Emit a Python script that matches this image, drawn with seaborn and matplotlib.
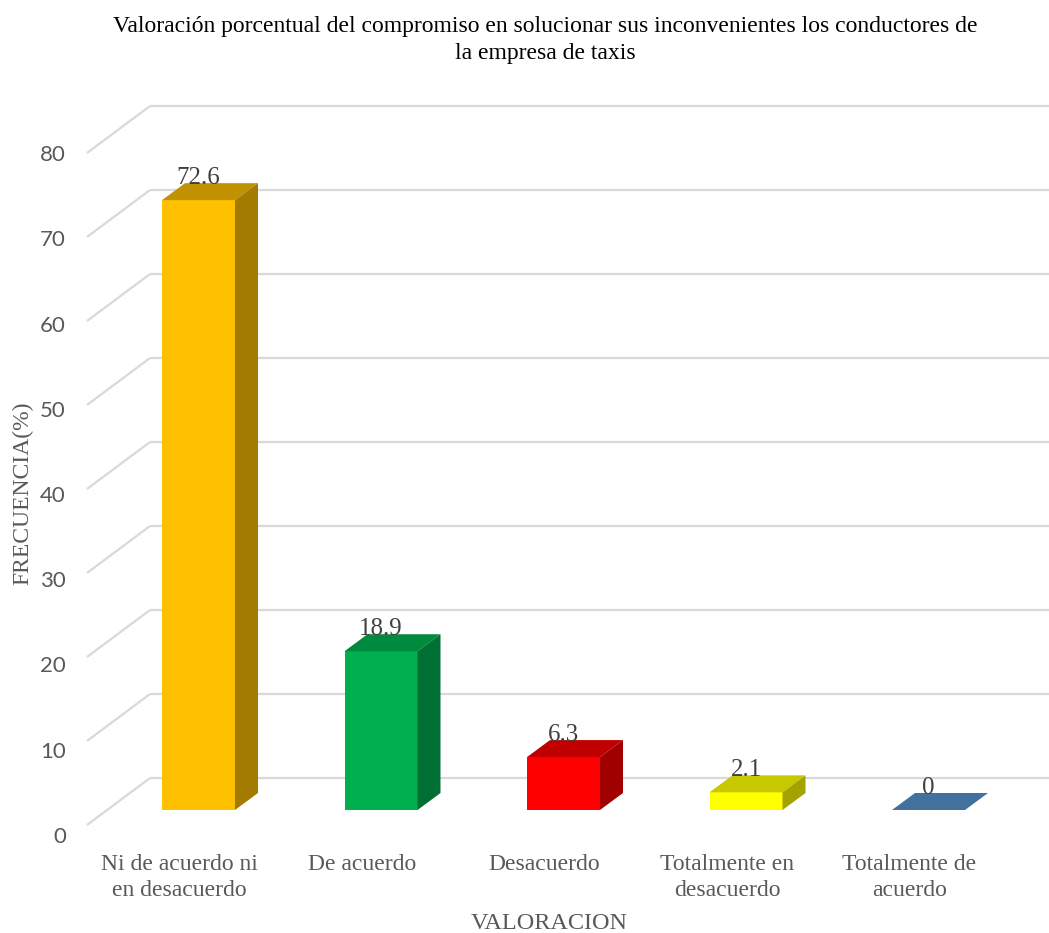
import matplotlib
matplotlib.use("Agg")
import matplotlib.pyplot as plt
import seaborn as sns
import numpy as np

# --- data ---
categorias = ["Ni de acuerdo ni\nen desacuerdo", "De acuerdo", "Desacuerdo",
              "Totalmente en\ndesacuerdo", "Totalmente de\nacuerdo"]
valores = [72.6, 18.9, 6.3, 2.1, 0.0]
etiquetas = ["72.6", "18.9", "6.3", "2.1", "0"]
ticks_y = [0, 10, 20, 30, 40, 50, 60, 70, 80]

# face colours for the pseudo-3D columns
color_frente = ["#FFC000", "#00B050", "#FF0000", "#FFFF00", "#4A7AA8"]
color_tapa = ["#C09100", "#008A3E", "#C00000", "#C8C800", "#41719C"]
color_lado = ["#A37B00", "#006F33", "#A00000", "#A3A300", "#2F5F8A"]

titulo = ("Valoración porcentual del compromiso en solucionar sus inconvenientes los conductores de\n"
          "la empresa de taxis")

sns.set_style("white")
plt.rcParams["font.family"] = ["Liberation Serif", "DejaVu Serif"]

W, H = 1049, 933
fig = plt.figure(figsize=(W / 100, H / 100), dpi=100)

# axes box in pixels (left, top, right, bottom)
L, T, R, B = 75, 90, 1049, 845
ax = fig.add_axes([L / W, (H - B) / H, (R - L) / W, (B - T) / H])

# scale: one category = 182.5 px, one unit of value = 8.4 px
px_x, px_y = 182.5, 8.4
x0_px, y0_px = 198.5, 810

# perspective offsets
prof_x, prof_y = 23 / px_x, 17 / px_y          # depth of each column
pared_dy = 32 / px_y                            # back wall above column front
suelo_dy = -15 / px_y                           # front edge of side wall
pared_x0 = (87 - x0_px) / px_x
pared_x1 = (150 - x0_px) / px_x
gris = "#D9D9D9"

# gridlines: diagonal on the side wall, then horizontal on the back wall
for v in ticks_y:
    ax.plot([pared_x0, pared_x1], [v + suelo_dy, v + pared_dy], color=gris,
            lw=1.6, zorder=0, solid_capstyle="butt", clip_on=False)
    ax.plot([pared_x1, (R - x0_px) / px_x], [v + pared_dy, v + pared_dy],
            color=gris, lw=1.6, zorder=0, solid_capstyle="butt", clip_on=False)

# front faces
ancho = 0.4
sns.barplot(x=categorias, y=valores, hue=categorias, palette=color_frente,
            width=ancho, saturation=1, linewidth=0, legend=False, ax=ax, zorder=3)
ax.set_xlim((L - x0_px) / px_x, (R - x0_px) / px_x)
ax.set_ylim((y0_px - B) / px_y, (y0_px - T) / px_y)

# top and side faces
for i, v in enumerate(valores):
    xl, xr = i - ancho / 2, i + ancho / 2
    ax.fill([xl, xr, xr + prof_x, xl + prof_x], [v, v, v + prof_y, v + prof_y],
            color=color_tapa[i], lw=0, zorder=4)
    if v > 0:
        ax.fill([xr, xr + prof_x, xr + prof_x, xr], [0, prof_y, v + prof_y, v],
                color=color_lado[i], lw=0, zorder=4)
    ax.text(i, v + prof_y + 5 / px_y, etiquetas[i], ha="center", va="center",
            fontsize=18, color="#404040", zorder=5)

# category labels sit on the front edge of the floor, slightly left of the columns
desplaz = 19 / px_x
ax.set_xticks([i - desplaz for i in range(len(categorias))], categorias)

# value axis labels sit in front of the side wall
pos_ticks = [(-25 + 8.525 * v) / px_y for v in ticks_y]
ax.set_yticks(pos_ticks)
ax.set_yticklabels([str(v) for v in ticks_y], family="Lato", fontsize=16, color="#595959")
ax.tick_params(axis="y", length=0, pad=6.5)
ax.tick_params(axis="x", length=0, pad=6.5, labelsize=17, labelcolor="#595959")
for t in ax.get_xticklabels():
    t.set_linespacing(1.33)

for s in ax.spines.values():
    s.set_visible(False)

ax.set_xlabel("VALORACION", fontsize=17.5, color="#595959")
ax.xaxis.set_label_coords((549 - L) / (R - L), (B - 913) / (B - T))
ax.set_ylabel("FRECUENCIA(%)", fontsize=17, color="#595959")
ax.yaxis.set_label_coords((33 - L) / (R - L), (B - 493) / (B - T))

fig.text(545 / W, 1 - 40 / H, titulo, ha="center", va="center", fontsize=17,
         color="#000000", linespacing=1.33)

fig.savefig("out.png", dpi=100)
